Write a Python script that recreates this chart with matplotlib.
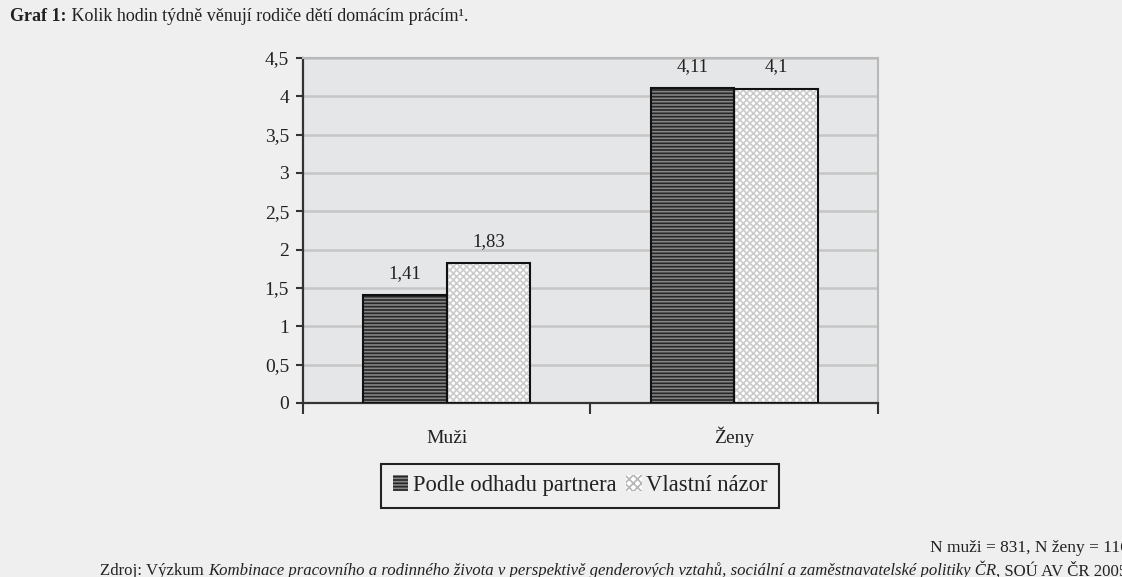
import matplotlib.pyplot as plt
import numpy as np
from matplotlib.ticker import FuncFormatter, FixedLocator
from matplotlib.patches import Patch

plt.rcParams['font.family'] = ['Liberation Serif', 'DejaVu Serif']
plt.rcParams['hatch.linewidth'] = 1.2

categories = ['Muži', 'Ženy']
series_names = ['Podle odhadu partnera', 'Vlastní názor']
partner_est = [1.41, 4.11]
own_view = [1.83, 4.10]

bg = '#efefef'
fig = plt.figure(figsize=(11.22, 5.77), dpi=100, facecolor=bg)
ax = fig.add_axes([0.270, 0.3016, 0.5125, 0.598])
ax.set_facecolor('#e5e6e8')

x = np.arange(len(categories))
w = 0.29

# dark bars with horizontal stripes
ax.bar(x - w / 2, partner_est, w, color='#262626', edgecolor='#858585',
       hatch='-----', linewidth=0, zorder=3)
ax.bar(x - w / 2, partner_est, w, fill=False, edgecolor='#111111',
       linewidth=1.5, zorder=4)
# light checkered bars
ax.bar(x + w / 2, own_view, w, color='white', edgecolor='#cbcbcb',
       hatch='xxxxx', linewidth=0, zorder=3)
ax.bar(x + w / 2, own_view, w, fill=False, edgecolor='#111111',
       linewidth=1.5, zorder=4)

def fmt(v):
    return f'{v:g}'.replace('.', ',')

for xi, v in zip(x - w / 2, partner_est):
    ax.text(xi, v + 0.17, fmt(v), ha='center', va='bottom', fontsize=13.5, color='#222222')
for xi, v in zip(x + w / 2, own_view):
    ax.text(xi, v + 0.17, fmt(v), ha='center', va='bottom', fontsize=13.5, color='#222222')

ax.set_xlim(-0.5, 1.5)
ax.set_ylim(0, 4.5)
ax.yaxis.set_major_locator(FixedLocator(np.arange(0, 4.51, 0.5)))
ax.yaxis.set_major_formatter(FuncFormatter(lambda v, p: fmt(v)))
ax.grid(axis='y', color='#c6c6c6', linewidth=1.8, zorder=0)
ax.set_axisbelow(True)

ax.set_xticks([-0.5, 0.5, 1.5])
ax.set_xticklabels([])
ax.set_xticks(x, minor=True)
ax.set_xticklabels(categories, minor=True, fontsize=14, color='#222222')
for lbl in ax.get_xticklabels(minor=True):
    lbl.set_va('baseline')
ax.tick_params(axis='x', which='major', direction='out', length=8, width=1.5, color='#333333')
ax.tick_params(axis='x', which='minor', length=0, pad=29)
ax.tick_params(axis='y', direction='out', length=5, width=1.5, color='#333333',
               labelsize=14, labelcolor='#222222', pad=5)

for s in ['left', 'bottom']:
    ax.spines[s].set_color('#333333')
    ax.spines[s].set_linewidth(1.6)
for s in ['top', 'right']:
    ax.spines[s].set_color('#b8b8b8')
    ax.spines[s].set_linewidth(1.5)

handles = [Patch(facecolor='#262626', edgecolor='#858585', hatch='-----', linewidth=0),
           Patch(facecolor='white', edgecolor='#b5b5b5', hatch='xxxx', linewidth=0)]
leg = fig.legend(handles, series_names, loc='center', bbox_to_anchor=(0.517, 0.158),
                 ncol=2, fontsize=16.3, frameon=True, fancybox=False,
                 handlelength=0.7, handleheight=0.7, handletextpad=0.2,
                 columnspacing=0.4, borderpad=0.5, edgecolor='#222222',
                 facecolor=bg, framealpha=1)
leg.get_frame().set_linewidth(1.5)
for t in leg.get_texts():
    t.set_color('#222222')

# title
t1 = fig.text(0.009, 0.963, 'Graf 1:', fontsize=13, fontweight='bold', color='#222222', va='baseline')
ax.annotate(' Kolik hodin týdně věnují rodiče dětí domácím prácím¹.', xy=(1, 0),
            xycoords=t1, va='bottom', fontsize=13, color='#222222',
            annotation_clip=False)

# notes at bottom
fig.text(1.014, 0.043, 'N muži = 831, N ženy = 1168', ha='right', va='baseline',
         fontsize=12.5, color='#222222')
z1 = fig.text(0.089, 0.003, 'Zdroj: Výzkum ', va='baseline', fontsize=12.1, color='#222222')
z2 = ax.annotate('Kombinace pracovního a rodinného života v perspektivě genderových vztahů, '
                 'sociální a zaměstnavatelské politiky ČR', xy=(1, 0), xycoords=z1, va='bottom',
                 fontsize=12.1, style='italic', color='#222222', annotation_clip=False)
ax.annotate(', SOÚ AV ČR 2005.', xy=(1, 0), xycoords=z2, va='bottom',
            fontsize=12.1, color='#222222', annotation_clip=False)

fig.savefig('out.png', dpi=100, facecolor=bg)
